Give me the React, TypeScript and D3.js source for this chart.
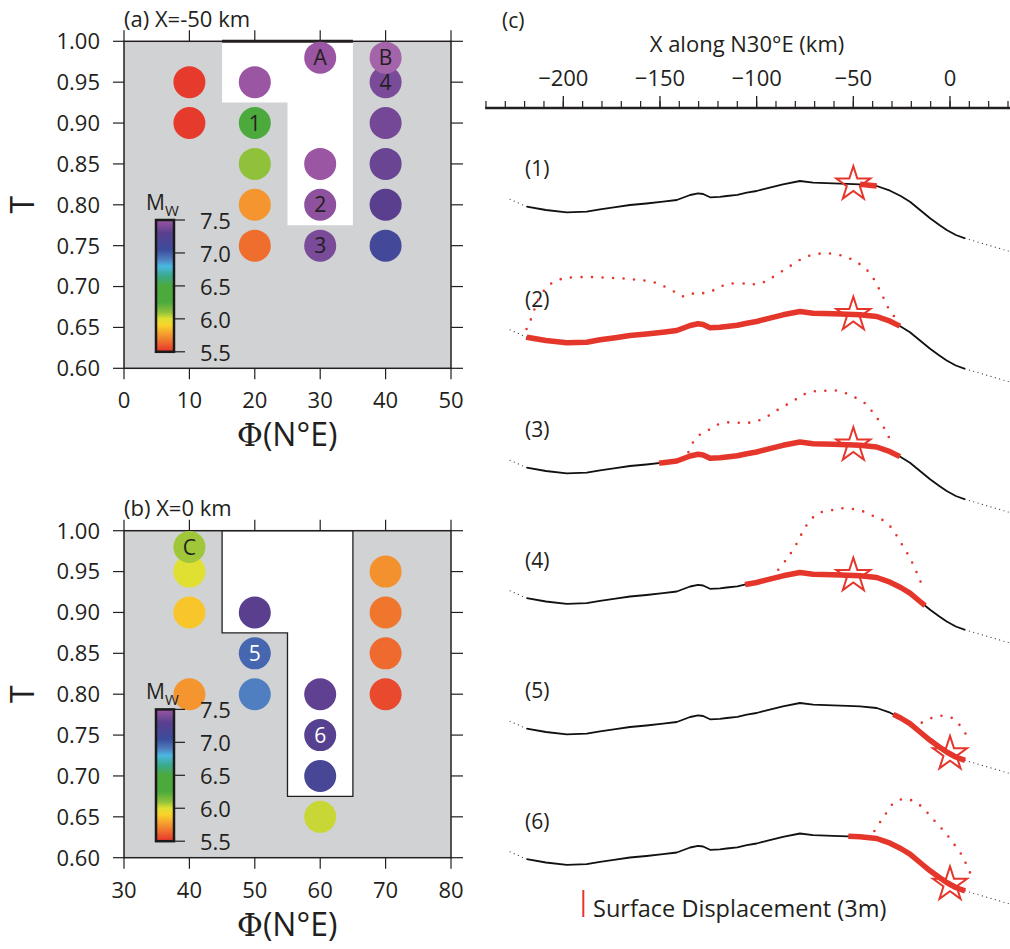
import React from 'react';
import * as d3 from 'd3';

const FONT = "'Open Sans', 'DejaVu Sans', sans-serif";
const INK = '#231f20';
const RED = '#e5362c';
const GRAY = '#d1d2d4';

// ---- panel (a): X = -50 km ----
const phiA = [10, 10, 20, 20, 20, 20, 20, 30, 30, 30, 40, 40, 40, 40, 40, 30, 40];
const tA = [0.95, 0.9, 0.95, 0.9, 0.85, 0.8, 0.75, 0.85, 0.8, 0.75, 0.95, 0.9, 0.85, 0.8, 0.75, 0.98, 0.98];
const mwA = [5.52, 5.52, 7.5, 6.35, 6.1, 5.75, 5.65, 7.5, 7.46, 7.4, 7.4, 7.38, 7.35, 7.3, 7.12, 7.5, 7.55];
const labelA = ['', '', '', '1', '', '', '', '', '2', '3', '4', '', '', '', '', 'A', 'B'];
const whiteA: [number, number][] = [[15, 1], [35, 1], [35, 0.775], [25, 0.775], [25, 0.925], [15, 0.925]];

// ---- panel (b): X = 0 km ----
const phiB = [40, 40, 40, 50, 50, 50, 60, 60, 60, 60, 70, 70, 70, 70, 40];
const tB = [0.95, 0.9, 0.8, 0.9, 0.85, 0.8, 0.8, 0.75, 0.7, 0.65, 0.95, 0.9, 0.85, 0.8, 0.98];
const mwB = [6.0, 5.87, 5.75, 7.3, 6.97, 6.9, 7.32, 7.27, 7.15, 6.03, 5.74, 5.67, 5.64, 5.56, 6.08];
const labelB = ['', '', '', '', '5', '', '', '6', '', '', '', '', '', '', 'C'];
const whiteB: [number, number][] = [[45, 1], [65, 1], [65, 0.675], [55, 0.675], [55, 0.875], [45, 0.875]];

const tTicks = [0.6, 0.65, 0.7, 0.75, 0.8, 0.85, 0.9, 0.95, 1.0];
const mwTicks = [5.5, 6.0, 6.5, 7.0, 7.5];

// colour table of the Mw bar
const mwStops = [5.5, 5.6, 5.75, 5.9, 6.0, 6.1, 6.25, 6.5, 6.65, 6.8, 6.9, 7.05, 7.3, 7.5, 7.55];
const mwColors = ['#e4332c', '#ec5a2e', '#f4952f', '#f9d22a', '#e0e032', '#8fc13b', '#4caa3c', '#4caa3c',
  '#3aa98a', '#4ab8e2', '#4f7fc0', '#3b4c9b', '#5a3f8f', '#9a56a2', '#a464aa'];

// ---- panel (c): topography profile (km along N30E, elevation km) ----
const topoX = [-218.9, -209, -198.2, -187.9, -181.0, -173, -165.5, -157, -148.4, -141.3, -134.4, -130.3,
  -127.7, -124.1, -119, -115.5, -110, -105.1, -100, -94.8, -86.4, -77.6, -70.8, -60.5, -53, -46.5, -37.9,
  -31.0, -25.5, -20.7, -15.5, -10.3, -5.5, -1.7, 3, 7.8];
const topoZ = [3.83, 3.5, 3.27, 3.33, 3.57, 3.78, 4.0, 4.15, 4.33, 4.5, 5.0, 5.17, 5.1, 4.77, 4.82, 4.9, 5.02,
  5.23, 5.4, 5.67, 6.07, 6.4, 6.23, 6.17, 6.12, 6.07, 5.9, 5.43, 4.9, 4.33, 3.5, 2.67, 2.0, 1.5, 1.0, 0.67];
const extLeftX = [-227.5, -218.9];
const extLeftZ = [4.57, 3.83];
const extRightX = [7.8, 31];
const extRightZ = [0.67, -0.65];

const ruptureStart = [-46.5, -219, -150.5, -106, -29.3, -52.6];
const ruptureEnd = [-37.9, -25.9, -25.9, -12.9, 7.8, 7.8];
const hypoX = [-50, -50, -50, -50, 0, 0];

// surface displacement (m)
const dispX: number[][] = [
  [],
  [-219, -216, -213.7, -209.4, -204.3, -198.2, -187, -174.9, -163.7, -152.5, -142.2, -137, -131.9, -126.7,
    -121.6, -115.5, -105.1, -99.1, -93.9, -84.4, -74.1, -62.9, -51.7, -42.2, -36.2, -31.9, -28],
  [-135.3, -132.7, -128.4, -123.2, -118.9, -112.9, -106.9, -101.7, -96.5, -91.4, -86.2, -81.0, -76.7, -70.7,
    -65.5, -59.5, -53.4, -48.2, -43.1, -39.6, -36.2, -32.7, -30.7],
  [-88.8, -84.8, -81.5, -78.4, -75.9, -72.4, -68.1, -62.4, -56.9, -50.8, -45.1, -39.7, -34.5, -30.1, -27.0,
    -24.1, -21.0, -18.5, -15.9, -13.8],
  [-14.6, -9.5, -4.0, 1.4, 5.5, 8.6],
  [-39.1, -35.8, -32.4, -29.0, -23.3, -17.7, -13.3, -9.2, -5.2, -1.4, 2.2, 5.5, 8.1, 10.3],
];
const dispU: number[][] = [
  [],
  [0.9, 2.5, 4.0, 5.7, 6.7, 7.2, 7.2, 6.7, 6.2, 5.6, 4.3, 3.4, 3.5, 3.6, 4.2, 4.7, 4.4, 4.1, 4.3, 5.1, 6.2,
    6.7, 6.2, 4.9, 3.0, 1.4, 0.6],
  [0.5, 1.5, 2.4, 3.3, 3.8, 3.8, 3.5, 3.4, 3.5, 3.9, 4.3, 4.7, 5.2, 5.8, 5.9, 6.0, 5.7, 5.2, 4.6, 3.7, 2.9,
    2.0, 1.1],
  [0.8, 1.7, 2.6, 3.6, 4.7, 5.9, 6.8, 7.1, 7.4, 7.4, 7.2, 6.8, 6.6, 6.1, 5.4, 4.7, 4.0, 3.3, 2.5, 1.7],
  [1.2, 2.6, 3.7, 4.1, 3.6, 2.8],
  [0.8, 2.1, 3.4, 4.7, 5.8, 6.3, 6.3, 6.0, 5.7, 5.3, 4.7, 4.0, 3.1, 2.2],
];

const mwColor = d3.scaleLinear<string>().domain(mwStops).range(mwColors).clamp(true);
const lightLabels = new Set(['5', '6']);

type PanelProps = {
  id: string;
  top: number;
  title: string;
  xDomain: [number, number];
  phi: number[];
  t: number[];
  mw: number[];
  labels: string[];
  white: [number, number][];
  outlineWhite: boolean;
};

function Panel({ id, top, title, xDomain, phi, t, mw, labels, white, outlineWhite }: PanelProps) {
  const x = d3.scaleLinear().domain(xDomain).range([124, 451]);
  const y = d3.scaleLinear().domain([0.6, 1.0]).range([top + 327, top]);
  const xTicks = d3.range(xDomain[0], xDomain[1] + 1, 10);
  const poly = white.map(([p, tt]) => `${x(p)},${y(tt)}`).join(' ');

  // colour bar
  const cbY = d3.scaleLinear().domain([5.5, 7.5]).range([top + 310.5, top + 178.7]);
  const cbX0 = 156;
  const cbX1 = 174;
  const gradId = `mwgrad-${id}`;

  return (
    <g>
      <defs>
        <linearGradient id={gradId} x1="0" y1="1" x2="0" y2="0">
          {mwStops.filter((m) => m <= 7.5).map((m, i) => (
            <stop key={i} offset={(m - 5.5) / 2} stopColor={mwColors[i]} />
          ))}
        </linearGradient>
      </defs>
      <text x={124} y={top - 14.5} fontSize={22} fill={INK} fontFamily={FONT}>{title}</text>
      <rect x={x(xDomain[0])} y={y(1)} width={x(xDomain[1]) - x(xDomain[0])} height={y(0.6) - y(1)} fill={GRAY} />
      <polygon points={poly} fill="#ffffff" stroke={outlineWhite ? INK : 'none'} strokeWidth={1.3} />
      {/* frame */}
      <rect x={x(xDomain[0])} y={y(1)} width={x(xDomain[1]) - x(xDomain[0])} height={y(0.6) - y(1)}
        fill="none" stroke={INK} strokeWidth={1.5} />
      {!outlineWhite && (
        <line x1={x(white[0][0])} x2={x(white[1][0])} y1={y(1)} y2={y(1)} stroke={INK} strokeWidth={3} />
      )}
      {tTicks.map((v) => (
        <g key={v}>
          <line x1={x(xDomain[0]) - 11} x2={x(xDomain[0])} y1={y(v)} y2={y(v)} stroke={INK} strokeWidth={1.2} />
          <line x1={x(xDomain[1])} x2={x(xDomain[1]) + 12} y1={y(v)} y2={y(v)} stroke={INK} strokeWidth={1.2} />
          <text x={100} y={y(v)} dy="0.36em" textAnchor="end" fontSize={22} fill={INK} fontFamily={FONT}>
            {d3.format('.2f')(v)}
          </text>
        </g>
      ))}
      {xTicks.map((v) => (
        <g key={v}>
          <line x1={x(v)} x2={x(v)} y1={y(0.6)} y2={y(0.6) + 11} stroke={INK} strokeWidth={1.2} />
          <line x1={x(v)} x2={x(v)} y1={y(1)} y2={y(1) - 11} stroke={INK} strokeWidth={1.2} />
          <text x={x(v)} y={y(0.6) + 40} textAnchor="middle" fontSize={22} fill={INK} fontFamily={FONT}>{v}</text>
        </g>
      ))}
      {/* axis titles */}
      <text transform={`translate(34,${(y(0.6) + y(1)) / 2}) rotate(-90)`} textAnchor="middle" fontSize={32}
        fill={INK} fontFamily={FONT}>T</text>
      <text x={287} y={y(0.6) + 78} textAnchor="middle" fontSize={32} fill={INK} fontFamily={FONT}>
        <tspan fontFamily="'DejaVu Serif', 'Liberation Serif', serif">Φ</tspan>(N°E)
      </text>
      {/* events */}
      {phi.map((p, i) => (
        <g key={i}>
          <circle cx={x(p)} cy={y(t[i])} r={16} fill={mwColor(mw[i])} />
          {labels[i] && (
            <text x={x(p)} y={y(t[i])} dy="0.36em" textAnchor="middle" fontSize={21}
              fill={lightLabels.has(labels[i]) ? '#ffffff' : INK} fontFamily={FONT}>{labels[i]}</text>
          )}
        </g>
      ))}
      {/* colour bar */}
      <rect x={cbX0} y={cbY(7.5)} width={cbX1 - cbX0} height={cbY(5.5) - cbY(7.5)} fill={`url(#${gradId})`}
        stroke="#1a1a1a" strokeWidth={2.5} />
      {mwTicks.map((m) => (
        <g key={m}>
          <line x1={cbX1} x2={cbX1 + 11} y1={cbY(m)} y2={cbY(m)} stroke={INK} strokeWidth={1.2} />
          <text x={200} y={cbY(m)} dy="0.4em" fontSize={22} fill={INK} fontFamily={FONT}>{d3.format('.1f')(m)}</text>
        </g>
      ))}
      <text x={146} y={cbY(7.5) - 10} fontSize={21} fill={INK} fontFamily={FONT}>
        M<tspan fontSize={15} dy={6}>W</tspan>
      </text>
    </g>
  );
}

function Profiles() {
  const xC = d3.scaleLinear().domain([-200, 0]).range([563.3, 950]);
  const base = d3.scaleLinear().domain([1, 6]).range([245, 897.5]);
  const elevPx = d3.scaleLinear().domain([0, 1]).range([0, -10]);
  const dispPx = d3.scaleLinear().domain([0, 3]).range([0, -27]);
  const allX = [extLeftX[0], ...topoX, extRightX[1]];
  const allZ = [extLeftZ[0], ...topoZ, extRightZ[1]];
  const topoAt = d3.scaleLinear().domain(allX).range(allZ);
  const line = d3.line<[number, number]>();
  const smooth = d3.line<[number, number]>().curve(d3.curveCatmullRom);
  const star = d3.symbol().type(d3.symbolStar).size(360)();

  const axisY = 108;
  const majors = d3.range(-200, 1, 50);
  const minors = d3.range(-240, 31, 10);

  return (
    <g>
      <text x={502} y={28} fontSize={21} fill={INK} fontFamily={FONT}>(c)</text>
      <text x={747} y={52} textAnchor="middle" fontSize={22} fill={INK} fontFamily={FONT}>X along N30°E (km)</text>
      <line x1={xC(-240.4)} x2={1010} y1={axisY} y2={axisY} stroke={INK} strokeWidth={2.6} />
      {minors.map((v) => (
        <line key={v} x1={xC(v)} x2={xC(v)} y1={axisY} y2={axisY - 7} stroke={INK} strokeWidth={1.2} />
      ))}
      {majors.map((v) => (
        <g key={v}>
          <line x1={xC(v)} x2={xC(v)} y1={axisY} y2={axisY - 12} stroke={INK} strokeWidth={1.3} />
          <text x={xC(v)} y={86} textAnchor="middle" fontSize={22} fill={INK} fontFamily={FONT}>{d3.format('d')(v)}</text>
        </g>
      ))}
      {ruptureStart.map((rs, i) => {
        const k = i + 1;
        const b = base(k);
        const pt = (xx: number): [number, number] => [xC(xx), b + elevPx(topoAt(xx))];
        const topoPts = topoX.map(pt);
        const leftPts = extLeftX.map((xx, j) => [xC(xx), b + elevPx(extLeftZ[j])] as [number, number]);
        const rightPts = extRightX.map((xx, j) => [xC(xx), b + elevPx(extRightZ[j])] as [number, number]);
        const re = ruptureEnd[i];
        const rupPts = [rs, ...topoX.filter((v) => v > rs && v < re), re].map(pt);
        const dPts = dispX[i].map((xx, j) => [xC(xx), b + elevPx(topoAt(xx)) + dispPx(dispU[i][j])] as [number, number]);
        const h = pt(hypoX[i]);
        return (
          <g key={k}>
            <text x={525} y={b - 69} fontSize={21} fill={INK} fontFamily={FONT}>({k})</text>
            <path d={line(leftPts) ?? ''} fill="none" stroke="#333" strokeWidth={1.2} strokeDasharray="0 4.5" strokeLinecap="round" />
            <path d={line(rightPts) ?? ''} fill="none" stroke="#333" strokeWidth={1.2} strokeDasharray="0 4.5" strokeLinecap="round" />
            <path d={line(topoPts) ?? ''} fill="none" stroke="#111" strokeWidth={1.8} strokeLinejoin="round" />
            <path d={line(rupPts) ?? ''} fill="none" stroke={RED} strokeWidth={5.5} strokeLinejoin="round" />
            {dPts.length > 1 && (
              <path d={smooth(dPts) ?? ''} fill="none" stroke={RED} strokeWidth={2.6} strokeDasharray="0 10.5"
                strokeLinecap="round" />
            )}
            <path d={star ?? ''} transform={`translate(${h[0]},${h[1]})`} fill="none" stroke={RED} strokeWidth={2} />
          </g>
        );
      })}
      {/* legend */}
      <line x1={583.3} x2={583.3} y1={917} y2={917 + dispPx(3)} stroke={RED} strokeWidth={2} />
      <text x={593} y={917} fontSize={23.5} fill={INK} fontFamily={FONT}>Surface Displacement (3m)</text>
    </g>
  );
}

export default function App() {
  return (
    <svg width={1010} height={949} style={{ position: 'absolute', left: 0, top: 0, background: '#ffffff' }}>
      <Panel id="a" top={41.3} title="(a) X=-50 km" xDomain={[0, 50]} phi={phiA} t={tA} mw={mwA}
        labels={labelA} white={whiteA} outlineWhite={false} />
      <Panel id="b" top={530.7} title="(b) X=0 km" xDomain={[30, 80]} phi={phiB} t={tB} mw={mwB}
        labels={labelB} white={whiteB} outlineWhite={true} />
      <Profiles />
    </svg>
  );
}
